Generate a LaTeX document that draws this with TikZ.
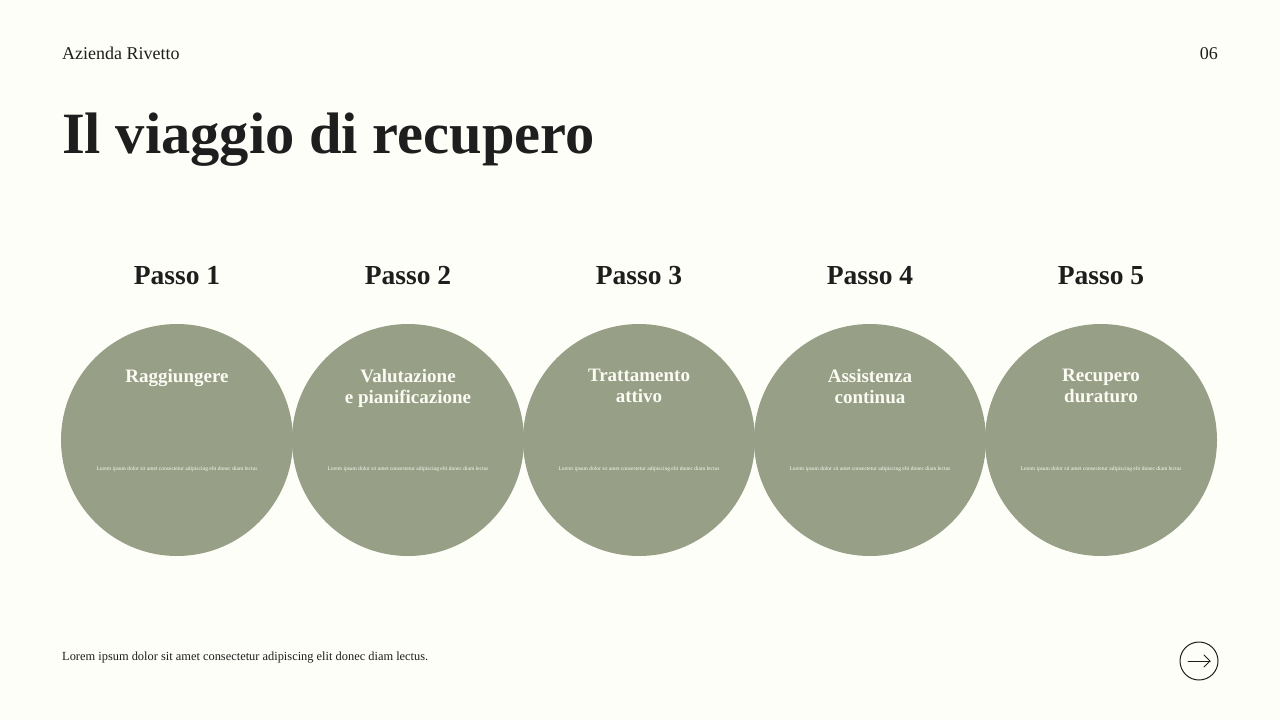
\documentclass[tikz,border=0pt]{standalone}
\usepackage{fontspec}
\setmainfont{Liberation Serif}
\definecolor{bg}{HTML}{FEFEF8}
\definecolor{sage}{HTML}{979F86}
\definecolor{ink}{HTML}{1E1E1E}
\definecolor{light}{HTML}{FBFBF3}
\tikzset{
  stepcirc/.style={circle, fill=sage, minimum size=232pt, inner sep=0pt},
  passo/.style={font=\fontsize{27.5}{30}\selectfont\bfseries, text=ink, anchor=base},
  ctitle/.style={font=\fontsize{19}{21}\selectfont\bfseries, text=light, align=center, anchor=north},
  csmall/.style={font=\fontsize{5.5}{6}\selectfont, text=light, anchor=base},
}
\begin{document}
\begin{tikzpicture}[x=1pt,y=-1pt]
\fill[bg] (0,0) rectangle (1280,720);
\useasboundingbox (0,0) rectangle (1280,720);
\node[anchor=base west, font=\fontsize{18}{20}\selectfont, text=ink, inner sep=0pt] (company) at (62,59) {Azienda Rivetto};
\node[anchor=base east, font=\fontsize{18}{20}\selectfont, text=ink, inner sep=0pt] (page) at (1218,59) {06};
\node[anchor=base west, font=\fontsize{58.5}{62}\selectfont\bfseries, text=ink, inner sep=0pt] (title) at (62,153) {Il viaggio di recupero};
\foreach \i/\x/\t in {1/177/Raggiungere, 2/408/{Valutazione\\e pianificazione}, 3/639/{Trattamento\\attivo}, 4/870/{Assistenza\\continua}, 5/1101/{Recupero\\duraturo}} {
  \node[stepcirc] (c\i) at (\x,440) {};
  \node[passo, inner sep=0pt] (p\i) at (\x,284) {Passo \i};
  \node[ctitle, inner sep=0pt] (t\i) at (\x,369) {\t};
  \node[csmall, inner sep=0pt] (s\i) at (\x,470) {Lorem ipsum dolor sit amet consectetur adipiscing elit donec diam lectus};
}
\node[anchor=base west, font=\fontsize{12.4}{14}\selectfont, text=ink, inner sep=0pt] (foot) at (62,660) {Lorem ipsum dolor sit amet consectetur adipiscing elit donec diam lectus.};
\node[circle, draw=ink, line width=1pt, minimum size=38pt, inner sep=0pt] (nav) at (1199,661) {};
\coordinate (a1) at (1188,661);
\coordinate (a2) at (1210,661);
\draw[ink, line width=1pt, line cap=round] (a1) -- (a2);
\draw[ink, line width=1pt, line cap=round, line join=round] (1204,655) -- (a2) -- (1204,667);
\end{tikzpicture}
\end{document}
